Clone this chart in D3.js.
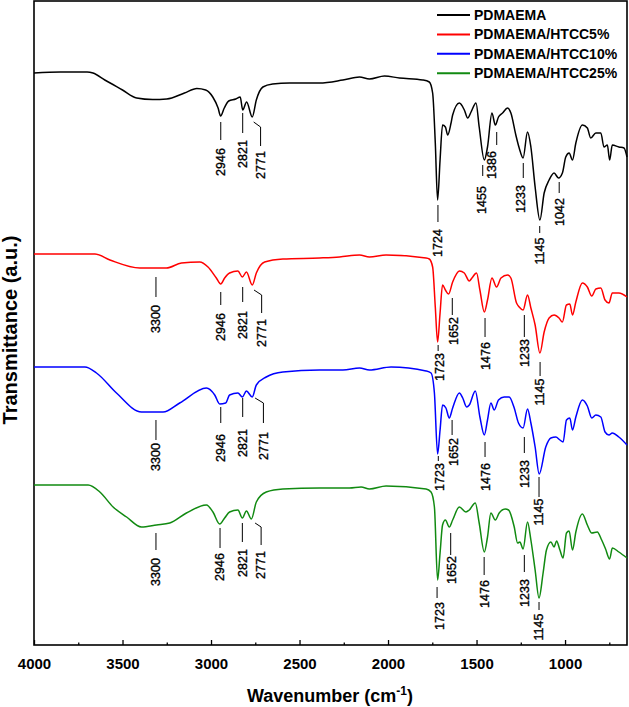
<!DOCTYPE html>
<html>
<head>
<meta charset="utf-8">
<script src="https://cdn.jsdelivr.net/npm/d3@7"></script>
<style>
  body { margin: 0; background: #fff; }
  svg { display: block; font-family: "Liberation Sans", Arial, sans-serif; }
</style>
</head>
<body>
<svg id="chart" width="629" height="707"></svg>
<script>
// series names + colours
const seriesNames = ["PDMAEMA", "PDMAEMA/HTCC5%", "PDMAEMA/HTCC10%", "PDMAEMA/HTCC25%"];
const seriesColors = ["#000000", "#ff0000", "#0000ff", "#118a11"];

// x ticks (wavenumber, cm-1)
const majorTicks = [4000, 3500, 3000, 2500, 2000, 1500, 1000];
const minorTicks = [3750, 3250, 2750, 2250, 1750, 1250, 750];

// spectra: [wavenumber, transmittance (a.u., stacked offset included)]
const pdmaema = [[4000,57.4],[3850,57.5],[3700,57.5],[3667,57.4],[3600,56.7],[3500,55.7],[3420,54.9],[3330,54.75],[3250,54.8],[3150,55.4],[3080,55.85],[3030,55.7],[2990,55.0],[2960,53.9],[2946,53.1],[2925,53.9],[2900,54.6],[2860,54.8],[2835,55.0],[2821,53.7],[2799,54.5],[2767,53.0],[2744,54.7],[2707,56.0],[2652,56.3],[2556,56.4],[2387,56.4],[2255,56.7],[2161,57.0],[2105,56.8],[2020,57.1],[1936,56.9],[1804,56.7],[1767,56.5],[1748,55.4],[1733,50.4],[1720,44.7],[1706,48.7],[1692,52.2],[1676,52.0],[1663,51.2],[1644,52.4],[1635,53.2],[1597,54.4],[1569,53.7],[1550,52.9],[1531,53.5],[1503,54.4],[1485,52.0],[1456,48.7],[1438,50.0],[1413,53.4],[1394,52.2],[1376,53.0],[1353,53.4],[1325,53.9],[1306,53.4],[1278,51.2],[1259,49.9],[1237,48.9],[1212,51.5],[1193,50.0],[1169,46.0],[1142,42.7],[1118,45.4],[1090,46.7],[1062,47.4],[1037,46.9],[1015,47.4],[996,49.0],[977,49.4],[958,48.7],[939,50.4],[902,52.2],[874,51.9],[855,50.9],[826,51.4],[798,51.4],[780,50.0],[761,50.2],[748,48.7],[733,50.2],[696,50.0],[667,49.9],[650,49.0]];

const htcc5 = [[4000,39.3],[3656,39.3],[3571,38.7],[3402,37.9],[3252,37.9],[3167,38.4],[3064,38.5],[3017,38.0],[2970,36.9],[2945,36.3],[2923,36.9],[2895,37.4],[2848,37.6],[2823,37.0],[2800,37.5],[2767,36.2],[2744,37.4],[2697,38.5],[2594,38.8],[2387,38.9],[2274,39.0],[2161,39.2],[2105,39.0],[2011,39.2],[1785,38.9],[1767,38.8],[1748,38.0],[1733,34.0],[1720,30.5],[1706,33.4],[1692,36.2],[1676,35.7],[1658,35.3],[1635,36.5],[1597,37.6],[1569,37.4],[1541,36.6],[1526,36.9],[1500,37.4],[1481,35.7],[1456,33.5],[1438,34.7],[1413,36.9],[1387,36.0],[1362,36.9],[1325,37.2],[1306,36.9],[1274,34.4],[1259,34.0],[1237,33.7],[1212,35.2],[1193,33.9],[1169,32.2],[1142,29.4],[1118,31.5],[1090,32.9],[1062,33.2],[1034,32.9],[1015,32.5],[992,34.2],[973,34.3],[958,33.2],[939,34.5],[902,36.4],[874,36.0],[849,35.1],[826,35.8],[798,35.9],[774,34.7],[752,34.4],[733,35.4],[696,35.4],[650,35.0]];

const htcc10 = [[4000,28.0],[3712,28.0],[3647,27.4],[3534,25.4],[3393,23.5],[3271,23.5],[3177,24.4],[3026,25.9],[2979,25.2],[2951,24.3],[2917,24.4],[2895,25.2],[2848,25.4],[2823,25.0],[2800,25.6],[2767,25.0],[2744,26.2],[2688,27.0],[2594,27.5],[2387,27.7],[2255,27.7],[2161,27.9],[2105,27.7],[1983,28.0],[1785,27.6],[1757,27.4],[1738,25.4],[1720,19.3],[1706,21.7],[1692,24.2],[1673,23.9],[1654,22.9],[1635,23.9],[1597,25.4],[1578,24.9],[1556,24.0],[1541,24.2],[1507,25.6],[1481,23.0],[1456,21.2],[1438,22.7],[1419,24.4],[1400,23.7],[1376,24.7],[1344,25.0],[1316,25.0],[1287,23.9],[1263,22.4],[1237,21.9],[1212,23.8],[1193,22.4],[1169,20.0],[1146,17.3],[1109,20.0],[1080,20.9],[1052,21.0],[1029,20.7],[1011,20.5],[992,22.7],[973,22.9],[958,21.7],[939,23.0],[902,24.7],[874,24.1],[849,22.9],[826,23.2],[798,23.0],[774,21.5],[752,21.2],[733,21.4],[696,21.0],[650,20.2]];

const htcc25 = [[4000,16.2],[3694,16.2],[3628,15.5],[3553,14.0],[3477,13.0],[3393,12.0],[3308,12.2],[3233,12.4],[3139,13.4],[3026,14.2],[2989,13.5],[2951,12.3],[2923,12.9],[2895,13.5],[2848,13.7],[2823,12.9],[2800,13.6],[2772,12.8],[2744,14.5],[2688,15.5],[2594,15.8],[2387,15.9],[2218,15.9],[2152,16.0],[2105,15.8],[2011,16.1],[1785,15.8],[1757,15.5],[1738,14.0],[1720,6.7],[1706,9.4],[1692,12.2],[1676,12.7],[1654,12.0],[1635,12.7],[1597,14.0],[1560,13.5],[1541,13.7],[1507,14.4],[1485,12.4],[1456,9.5],[1438,11.0],[1419,13.4],[1394,12.7],[1372,13.4],[1338,13.8],[1319,13.7],[1287,12.0],[1268,10.4],[1255,10.5],[1237,9.8],[1212,12.5],[1193,10.7],[1169,7.7],[1147,4.9],[1124,7.4],[1105,9.7],[1080,10.5],[1062,10.0],[1048,10.6],[1029,9.7],[1011,8.9],[992,11.4],[977,11.6],[958,9.7],[939,11.5],[902,13.3],[874,12.2],[849,11.4],[818,11.5],[793,10.7],[771,9.8],[748,8.8],[733,9.9],[696,9.5],[650,8.9]];

// peak labels: [label, line wn, line top, line bottom, text wn, text centre, (kink start wn, kink start y)]
const peaksPdmaema = [
  ["2946", 2945, 52.5, 50.7, 2945, 48.5],
  ["2821", 2821, 53.4, 51.4, 2821, 49.3],
  ["2771", 2720, 52.0, 50.1, 2720, 48.2, 2759, 52.5],
  ["1724", 1718, 44.2, 42.5, 1718, 40.4],
  ["1455", 1465, 48.2, 47.1, 1470, 44.7],
  ["1386", 1386, 51.5, 50.2, 1417, 48.2],
  ["1233", 1236, 48.4, 46.9, 1250, 44.8],
  ["1145", 1143, 42.1, 41.4, 1143, 39.6],
  ["1042", 1033, 46.5, 45.4, 1033, 43.5]
];
const peaksHtcc5 = [
  ["3300", 3311, 37.0, 35.0, 3311, 32.8],
  ["2946", 2945, 35.5, 34.2, 2945, 32.0],
  ["2821", 2821, 36.0, 34.5, 2821, 32.2],
  ["2771", 2714, 35.2, 33.4, 2714, 31.4, 2757, 35.7],
  ["1723", 1717, 30.2, 29.6, 1710, 28.0],
  ["1652", 1637, 34.9, 33.2, 1631, 31.6],
  ["1476", 1452, 32.9, 31.0, 1446, 29.1],
  ["1233", 1230, 33.2, 31.0, 1226, 29.4],
  ["1145", 1141, 28.5, 27.1, 1141, 25.5]
];
const peaksHtcc10 = [
  ["3300", 3311, 22.7, 20.7, 3311, 19.0],
  ["2946", 2945, 24.0, 22.4, 2945, 19.9],
  ["2821", 2821, 24.9, 23.0, 2821, 20.4],
  ["2771", 2704, 24.4, 22.4, 2704, 20.1, 2751, 24.9],
  ["1723", 1716, 19.1, 18.6, 1710, 17.0],
  ["1652", 1638, 22.7, 21.2, 1631, 19.5],
  ["1476", 1452, 20.5, 19.0, 1446, 17.0],
  ["1233", 1230, 21.0, 19.4, 1226, 17.3],
  ["1145", 1147, 17.0, 15.0, 1147, 13.5]
];
const peaksHtcc25 = [
  ["3300", 3311, 11.4, 9.7, 3311, 7.5],
  ["2946", 2949, 11.9, 9.9, 2949, 8.0],
  ["2821", 2823, 12.4, 10.5, 2823, 8.4],
  ["2771", 2717, 12.0, 10.2, 2717, 8.2, 2751, 12.4],
  ["1723", 1723, 6.0, 4.9, 1706, 3.1],
  ["1652", 1646, 11.4, 9.2, 1638, 7.7],
  ["1476", 1457, 9.0, 7.2, 1452, 5.3],
  ["1233", 1230, 9.2, 7.5, 1226, 5.4],
  ["1145", 1147, 4.5, 3.7, 1147, 2.0]
];

const allSeries = [pdmaema, htcc5, htcc10, htcc25];
const allPeaks = [peaksPdmaema, peaksHtcc5, peaksHtcc10, peaksHtcc25];

// --- SVG setup ---
const svg = d3.select("#chart"),
      margin = {top: 1, right: 2, bottom: 62, left: 34},
      width = +svg.attr("width") - margin.left - margin.right,
      height = +svg.attr("height") - margin.top - margin.bottom;

const g = svg.append("g")
             .attr("transform", `translate(${margin.left},${margin.top})`);

const x = d3.scaleLinear().domain([4000, 650]).range([0, width]);
const y = d3.scaleLinear().domain([0.2, 64.6]).range([height, 0]);

// --- x axis (ticks pointing inward) ---
const xAxis = g.append("g")
  .attr("transform", `translate(0,${height})`)
  .call(d3.axisBottom(x).tickValues(majorTicks).tickFormat(d3.format("d"))
          .tickSizeInner(-5).tickSizeOuter(0).tickPadding(13));
xAxis.select(".domain").remove();
xAxis.selectAll("line").attr("stroke-width", 1.3);
xAxis.selectAll("text")
  .attr("font-family", "'Liberation Sans', Arial, sans-serif")
  .style("font-size", "15px")
  .style("font-weight", "bold")
  .attr("fill", "#000");

const xMinor = g.append("g")
  .attr("transform", `translate(0,${height})`)
  .call(d3.axisBottom(x).tickValues(minorTicks).tickSizeInner(-2.5).tickSizeOuter(0).tickFormat(""));
xMinor.select(".domain").remove();
xMinor.selectAll("line").attr("stroke-width", 1.3);

// --- frame ---
g.append("rect")
  .attr("x", 0).attr("y", 0)
  .attr("width", width).attr("height", height)
  .attr("fill", "none")
  .attr("stroke", "#000")
  .attr("stroke-width", 1.6);

// --- spectra ---
const line = d3.line()
  .x(d => x(d[0]))
  .y(d => y(d[1]))
  .curve(d3.curveMonotoneX);
allSeries.forEach((s, i) => {
  g.append("path")
    .datum(s)
    .attr("fill", "none")
    .attr("stroke", seriesColors[i])
    .attr("stroke-width", 1.5)
    .attr("stroke-linejoin", "round")
    .attr("d", line);
});

// --- peak labels ---
allPeaks.forEach(peaks => {
  peaks.forEach(p => {
    const pts = [];
    if (p.length > 6) pts.push([p[6], p[7]]);
    pts.push([p[1], p[2]], [p[1], p[3]]);
    g.append("path")
      .attr("d", d3.line().x(d => x(d[0])).y(d => y(d[1]))(pts))
      .attr("fill", "none")
      .attr("stroke", "#000")
      .attr("stroke-width", 1);
    g.append("text")
      .attr("transform", `translate(${x(p[4])},${y(p[5])}) rotate(-90)`)
      .attr("text-anchor", "middle")
      .attr("dy", "0.35em")
      .style("font-size", "12.5px")
      .attr("fill", "#000")
      .attr("stroke", "#000")
      .attr("stroke-width", 0.35)
      .text(p[0]);
  });
});

// --- axis titles ---
const xt = svg.append("text")
  .attr("x", margin.left + 296)
  .attr("y", 702)
  .attr("text-anchor", "middle")
  .style("font-size", "18px")
  .style("font-weight", "bold");
xt.append("tspan").text("Wavenumber (cm");
xt.append("tspan").attr("dy", -7).style("font-size", "12px").text("-1");
xt.append("tspan").attr("dy", 7).text(")");

svg.append("text")
  .attr("transform", "translate(17,330) rotate(-90)")
  .attr("text-anchor", "middle")
  .style("font-size", "20px")
  .style("font-weight", "bold")
  .text("Transmittance (a.u.)");

// --- legend ---
const legend = svg.append("g").attr("transform", "translate(437,15)");
seriesNames.forEach((name, i) => {
  legend.append("line")
    .attr("x1", 0).attr("x2", 33)
    .attr("y1", i * 19.4).attr("y2", i * 19.4)
    .attr("stroke", seriesColors[i])
    .attr("stroke-width", 2);
  legend.append("text")
    .attr("x", 37)
    .attr("y", i * 19.4)
    .attr("dy", "0.35em")
    .style("font-size", "14px")
    .style("font-weight", "bold")
    .text(name);
});
</script>
</body>
</html>
